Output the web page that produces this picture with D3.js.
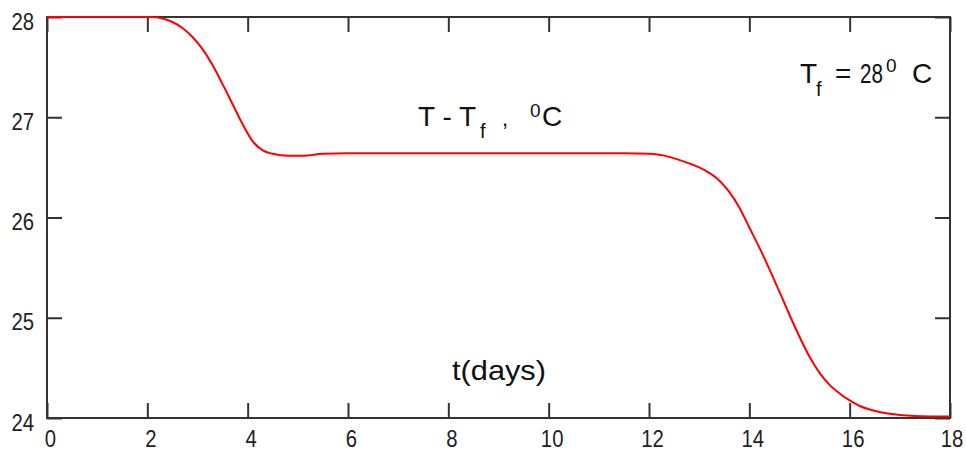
<!DOCTYPE html>
<html>
<head>
<meta charset="utf-8">
<script src="https://cdn.jsdelivr.net/npm/d3@7"></script>
<style>
  html, body { margin: 0; padding: 0; background: #fff; }
  svg { display: block; }
  .tick text { font-family: "Liberation Sans", Arial, sans-serif; font-size: 24px; fill: #222; }
  .lbl { font-family: "Liberation Sans", Arial, sans-serif; fill: #111; }
</style>
</head>
<body>
<svg id="chart" width="966" height="452"></svg>
<script>
// Temperature history (deg C) against time in days
const timeDays = [0, 2.0, 2.1, 2.3, 2.5, 2.7, 2.9, 3.1, 3.3, 3.5, 3.7, 3.9, 4.1, 4.3, 4.5, 4.8, 5.1, 5.5, 6,
  8, 10, 11.5, 12.0, 12.2, 12.4, 12.6, 12.8, 13.0, 13.2, 13.4, 13.6, 13.8, 14.0, 14.2, 14.4, 14.6,
  14.8, 15.0, 15.2, 15.4, 15.6, 15.8, 16.0, 16.2, 16.4, 16.6, 16.8, 17.0, 17.3, 17.6, 18];
const tempC = [28, 28, 28, 27.985, 27.95, 27.89, 27.80, 27.68, 27.52, 27.33, 27.13, 26.93, 26.76, 26.67, 26.635, 26.615, 26.615, 26.635, 26.64,
  26.64, 26.64, 26.64, 26.635, 26.625, 26.605, 26.575, 26.54, 26.50, 26.445, 26.37, 26.255, 26.10, 25.90, 25.70, 25.485, 25.26,
  25.03, 24.81, 24.61, 24.45, 24.33, 24.245, 24.175, 24.12, 24.085, 24.06, 24.042, 24.03, 24.02, 24.016, 24.015];

const xTicks = [0, 2, 4, 6, 8, 10, 12, 14, 16, 18];
const yTicks = [24, 25, 26, 27, 28];

const svg = d3.select("#chart");
const mLeft = 47, mRight = 950, mTop = 17, mBottom = 418;

const x = d3.scaleLinear().domain([0, 18]).range([mLeft, mRight]);
const y = d3.scaleLinear().domain([24, 28]).range([mBottom, mTop]);

const frameColor = "#333";
const tickLen = 15;
const digitWidth = 11.3;

// bottom axis with labels, ticks pointing into the plot
const gx = svg.append("g").attr("transform", `translate(0,${mBottom})`)
  .call(d3.axisBottom(x).tickValues(xTicks).tickSizeInner(-tickLen).tickSizeOuter(0).tickPadding(12).tickFormat(d3.format("d")));
gx.selectAll("text").attr("dx", d => d === 18 ? 1.5 : 3);

// left axis with labels
const gy = svg.append("g").attr("transform", `translate(${mLeft},0)`)
  .call(d3.axisLeft(y).tickValues(yTicks).tickSizeInner(-tickLen).tickSizeOuter(0).tickPadding(13).tickFormat(d3.format("d")));
gy.selectAll("text").attr("dy", "0.5em");

// narrow digits for the tick labels
[gx, gy].forEach(g => g.selectAll("text")
  .attr("textLength", d => String(d).length * digitWidth)
  .attr("lengthAdjust", "spacingAndGlyphs"));

// mirrored ticks on top and right edges
const gt = svg.append("g").attr("transform", `translate(0,${mTop})`)
  .call(d3.axisTop(x).tickValues(xTicks).tickSizeInner(-tickLen).tickSizeOuter(0).tickFormat(""));
const gr = svg.append("g").attr("transform", `translate(${mRight},0)`)
  .call(d3.axisRight(y).tickValues(yTicks).tickSizeInner(-tickLen).tickSizeOuter(0).tickFormat(""));

[gx, gy, gt, gr].forEach(g => {
  g.select(".domain").remove();
  g.selectAll("line").attr("stroke", frameColor).attr("stroke-width", 2);
});

// plot frame
svg.append("rect")
  .attr("x", mLeft).attr("y", mTop)
  .attr("width", mRight - mLeft).attr("height", mBottom - mTop)
  .attr("fill", "none").attr("stroke", frameColor).attr("stroke-width", 2);

// temperature curve
const line = d3.line()
  .x((d, i) => x(timeDays[i]))
  .y(d => y(d))
  .curve(d3.curveMonotoneX);

svg.append("path")
  .datum(tempC)
  .attr("d", line)
  .attr("fill", "none")
  .attr("stroke", "#ff0000")
  .attr("stroke-width", 2);

// annotations
function piece(txt, px, py, size, len) {
  const t = svg.append("text").attr("class", "lbl")
    .attr("x", px).attr("y", py)
    .attr("font-size", size)
    .text(txt);
  if (len) t.attr("textLength", len).attr("lengthAdjust", "spacingAndGlyphs");
  return t;
}

// T - Tf , 0C
piece("T - T", 418, 126, 28);
piece("f", 480, 138, 20);
piece(",", 502, 126, 22);
piece("0", 530, 117, 19);
piece("C", 542, 126, 28);

// Tf = 28 0C
piece("T", 800, 83, 28);
piece("f", 816, 96, 20);
piece("=", 835, 83, 28);
piece("28", 860, 83, 28, 23);
piece("0", 886, 72, 19);
piece("C", 912, 83, 28);

// t(days)
piece("t(days)", 452, 380, 28, 94);
</script>
</body>
</html>
